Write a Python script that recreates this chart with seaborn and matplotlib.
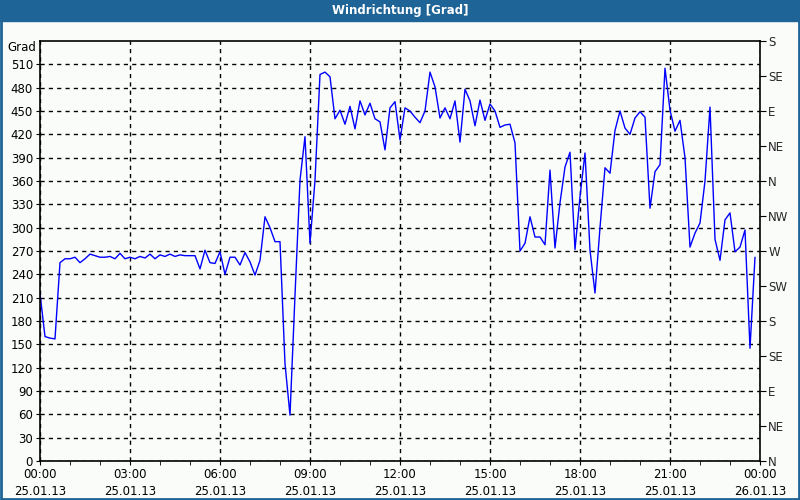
import numpy as np
import pandas as pd
import seaborn as sns
import matplotlib.pyplot as plt
import matplotlib.dates as mdates
from matplotlib.patches import Rectangle

# wind direction in degrees, one value every 10 minutes (6 per hour)
direction = [
    215, 160, 158, 157, 255, 260,   # 00
    260, 262, 255, 260, 266, 264,   # 01
    262, 262, 263, 260, 267, 260,   # 02
    262, 260, 263, 261, 266, 260,   # 03
    265, 263, 266, 263, 265, 264,   # 04
    264, 264, 247, 271, 255, 254,   # 05
    269, 240, 262, 262, 252, 268,   # 06
    256, 239, 258, 314, 300, 282,   # 07
    282, 125, 59, 213, 361, 417,    # 08
    280, 361, 497, 500, 494, 440,   # 09
    451, 433, 456, 427, 463, 445,   # 10
    460, 440, 436, 400, 454, 462,   # 11
    413, 454, 450, 442, 435, 450,   # 12
    500, 481, 441, 454, 440, 463,   # 13
    410, 478, 463, 431, 464, 438,   # 14
    459, 450, 429, 432, 433, 409,   # 15
    270, 280, 314, 288, 288, 278,   # 16
    374, 274, 332, 378, 397, 272,   # 17
    340, 396, 271, 216, 300, 377,   # 18
    370, 425, 450, 428, 420, 441,   # 19
    449, 442, 325, 372, 381, 505,   # 20
    451, 424, 438, 390, 275, 293,   # 21
    306, 360, 455, 285, 258, 310,   # 22
    319, 269, 275, 297, 145, 262,   # 23
]
start = "2013-01-25 00:00"
end = "2013-01-26 00:00"
left_ticks = list(range(0, 540, 30))
compass = ["N", "NE", "E", "SE", "S", "SW", "W", "NW", "N", "NE", "E", "SE", "S"]
compass_ticks = list(range(0, 541, 45))

df = pd.DataFrame({
    "time": pd.date_range(start, periods=len(direction), freq="10min"),
    "deg": direction,
})

sns.set_style("white")
plt.rcParams["font.family"] = ["DejaVu Sans"]

fig = plt.figure(figsize=(8, 5), dpi=100, facecolor="#fafcfa")
ax = fig.add_axes([0.05, 0.078, 0.9, 0.84])
ax.set_facecolor("#fafcfa")

sns.lineplot(data=df, x="time", y="deg", ax=ax, color="#0000ff", linewidth=1)

ax.set_xlim(pd.Timestamp(start), pd.Timestamp(end))
ax.set_ylim(0, 540)
ax.set_xlabel("")
ax.set_ylabel("")

ax.xaxis.set_major_locator(mdates.HourLocator(byhour=range(0, 24, 3)))
ax.xaxis.set_minor_locator(mdates.HourLocator())
ax.xaxis.set_major_formatter(mdates.DateFormatter("%H:%M\n%d.%m.%y"))
ax.set_yticks(left_ticks)

ax.grid(True, which="major", color="black", linestyle=(0, (3, 3)), linewidth=1)
for s in ax.spines.values():
    s.set_color("black")
    s.set_linewidth(1.2)

ax.tick_params(axis="both", which="both", direction="out", color="black",
               labelsize=8.5, labelcolor="black")
ax.tick_params(axis="y", length=3, pad=2)
ax.tick_params(axis="x", which="major", length=3, pad=2)
ax.tick_params(axis="x", which="minor", length=3)
ax.tick_params(axis="x", bottom=True, which="both")
ax.tick_params(axis="y", left=True)
for lbl in ax.get_xticklabels():
    lbl.set_linespacing(1.4)

ax.text(-0.005, 0.985, "Grad", transform=ax.transAxes, ha="right", va="center",
        fontsize=8.5, color="black")

ax2 = ax.twinx()
ax2.set_ylim(0, 540)
ax2.set_yticks(compass_ticks)
ax2.set_yticklabels(compass)
ax2.tick_params(axis="y", right=True, direction="out", length=4, pad=2,
                labelsize=8.5, color="black")
ax2.grid(False)
for s in ax2.spines.values():
    s.set_visible(False)

# title bar and frame
fig.patches.append(Rectangle((0, 1 - 21 / 500), 1, 21 / 500, transform=fig.transFigure,
                             color="#1e6496", zorder=0))
fig.patches.append(Rectangle((0.001, 0.002), 0.998, 0.997, transform=fig.transFigure,
                             fill=False, edgecolor="#1e6496", linewidth=2, zorder=0))
fig.text(0.5, 1 - 10.5 / 500, "Windrichtung [Grad]", ha="center", va="center",
         color="white", fontsize=8.5, fontweight="bold")

fig.savefig("out.png", dpi=100, facecolor=fig.get_facecolor())
